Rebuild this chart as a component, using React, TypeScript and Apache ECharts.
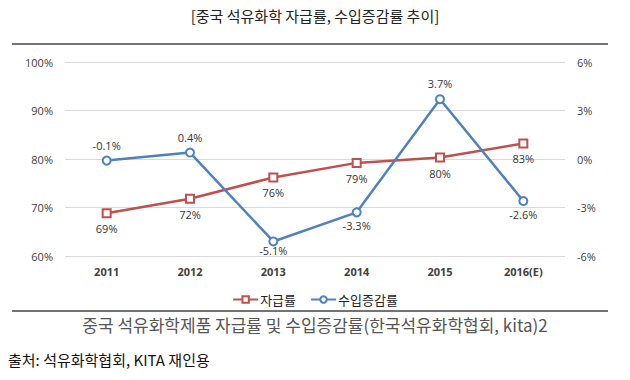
import React, { useEffect, useRef } from "react";
import * as echarts from "echarts";

const categories = ["2011", "2012", "2013", "2014", "2015", "2016(E)"];
const selfSufficiency = [68.8, 71.8, 76.2, 79.2, 80.3, 83.2];
const importChange = [-0.1, 0.4, -5.1, -3.3, 3.7, -2.6];
const importLabelPos = ["top", "top", "bottom", "bottom", "top", "bottom"];
const leftTicks = { min: 60, max: 100, interval: 10 };
const rightTicks = { min: -6, max: 6, interval: 3 };

const RED = "#C0504D";
const BLUE = "#4F81BD";
const KR = '"Noto Sans CJK KR", sans-serif';
const LAT = '"Open Sans", "Noto Sans", sans-serif';

export default function App() {
  const ref = useRef<HTMLDivElement>(null);
  useEffect(() => {
    if (!ref.current) return;
    const chart = echarts.init(ref.current, null, { renderer: "svg" });
    chart.setOption({
      animation: false,
      backgroundColor: "#ffffff",
      grid: { left: 65, right: 65, top: 62, bottom: 124 },
      legend: {
        left: "center",
        top: 288,
        itemGap: 14,
        itemWidth: 25,
        itemHeight: 8,
        textStyle: { fontFamily: KR, fontSize: 13, color: "#222", padding: [0, 0, 0, -3] },
        data: ["자급률", "수입증감률"],
      },
      xAxis: {
        type: "category",
        data: categories,
        boundaryGap: true,
        axisLine: { show: false },
        axisTick: { show: false },
        axisLabel: { margin: 10, color: "#404040", fontFamily: LAT, fontSize: 11, fontWeight: "bold" },
      },
      yAxis: [
        {
          type: "value",
          ...leftTicks,
          position: "left",
          axisLine: { show: false },
          axisTick: { show: false },
          axisLabel: { formatter: "{value}%", margin: 12, color: "#404040", fontFamily: LAT, fontSize: 11 },
          splitLine: { lineStyle: { color: "#d9d9d9" } },
        },
        {
          type: "value",
          ...rightTicks,
          position: "right",
          axisLine: { show: false },
          axisTick: { show: false },
          axisLabel: { formatter: "{value}%", margin: 12, color: "#404040", fontFamily: LAT, fontSize: 11 },
          splitLine: { show: false },
        },
      ],
      series: [
        {
          name: "자급률",
          type: "line",
          yAxisIndex: 0,
          data: selfSufficiency,
          symbol: "rect",
          symbolSize: 8,
          itemStyle: { color: "#ffffff", borderColor: RED, borderWidth: 2 },
          lineStyle: { color: RED, width: 2.5 },
          label: {
            show: true,
            position: "bottom",
            distance: 5,
            formatter: (p: any) => Math.round(p.value) + "%",
            color: "#333",
            fontFamily: LAT,
            fontSize: 11,
          },
        },
        {
          name: "수입증감률",
          type: "line",
          yAxisIndex: 1,
          data: importChange.map((v, i) => ({
            value: v,
            label: {
              position: importLabelPos[i],
              distance: i === 2 ? -1 : importLabelPos[i] === "top" ? 5 : 3,
            },
          })),
          symbol: "circle",
          symbolSize: 8,
          itemStyle: { color: "#ffffff", borderColor: BLUE, borderWidth: 2 },
          lineStyle: { color: BLUE, width: 2.5 },
          label: {
            show: true,
            formatter: (p: any) => p.value.toFixed(1) + "%",
            color: "#333",
            fontFamily: LAT,
            fontSize: 11,
          },
        },
      ],
      graphic: [
        {
          type: "text",
          left: "center",
          top: 8,
          style: { text: "[중국 석유화학 자급률, 수입증감률 추이]", font: `15px ${KR}`, fill: "#222" },
        },
        {
          type: "line",
          shape: { x1: 12, y1: 44, x2: 608, y2: 44 },
          style: { stroke: "#444", lineWidth: 1.5 },
        },
        {
          type: "line",
          shape: { x1: 12, y1: 311, x2: 608, y2: 311 },
          style: { stroke: "#444", lineWidth: 1.5 },
        },
        {
          type: "text",
          left: "center",
          top: 316,
          style: {
            text: "중국 석유화학제품 자급률 및 수입증감률(한국석유화학협회, kita)2",
            font: `17px ${KR}`,
            fill: "#555",
          },
        },
        {
          type: "text",
          left: 8,
          top: 352,
          style: { text: "출처: 석유화학협회, KITA 재인용", font: `15px ${KR}`, fill: "#111" },
        },
      ],
    });
    return () => chart.dispose();
  }, []);
  return <div ref={ref} style={{ position: "absolute", left: 0, top: 0, width: 630, height: 380 }} />;
}
